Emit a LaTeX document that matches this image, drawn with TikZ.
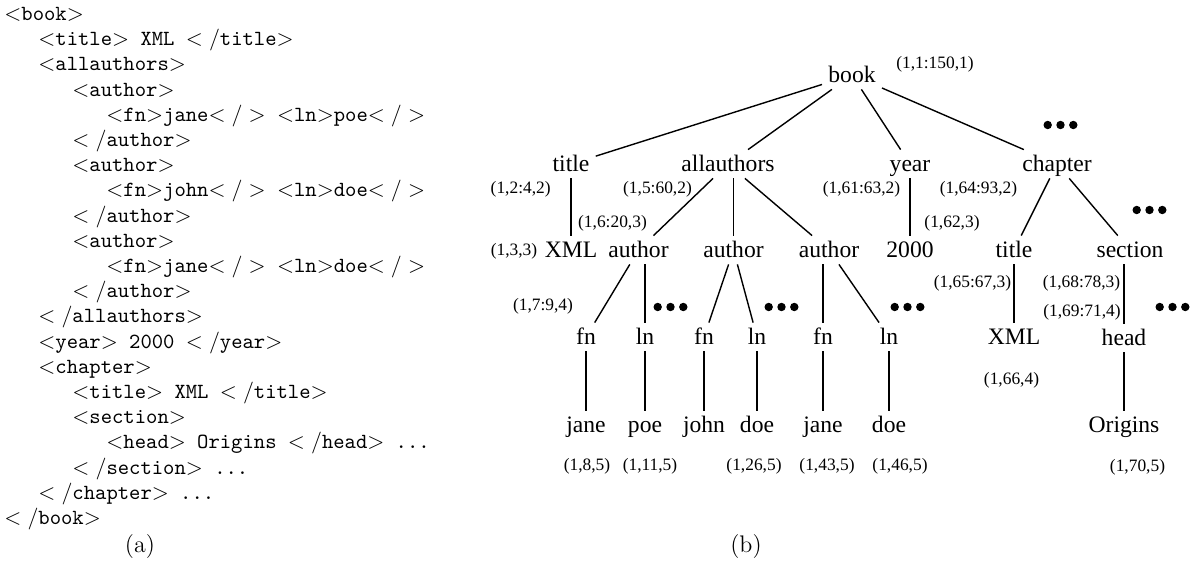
\documentclass[tikz,border=0pt]{standalone}
\usepackage{fontspec}
\newfontfamily\treefont{Liberation Serif}
\newcommand{\lvl}{\hphantom{xxx}}
\newcommand{\moredots}[1]{\fill #1 ++(-6.4pt,0) circle (2.1pt) ++(6.4pt,0) circle (2.1pt) ++(6.4pt,0) circle (2.1pt);}

\begin{document}
\begin{tikzpicture}[
    x=0.5pt, y=-0.5pt,
    elem/.style={font=\treefont\fontsize{11.8}{14}\selectfont, anchor=base, inner sep=3pt, text height=8pt, text depth=0pt},
    idx/.style={font=\treefont\fontsize{8.7}{10}\selectfont, inner sep=1pt},
    link/.style={line width=0.7pt},
    src/.style={font=\fontsize{10.8}{12.6}\selectfont\ttfamily, align=left, anchor=north west, inner sep=0pt}
  ]
  \useasboundingbox (0,0) rectangle (1195,565);

  % (a) the document
  \node[src] (src) at (4,7) {%
    $<$book$>$\\
    \lvl$<$title$>$ XML $</$title$>$\\
    \lvl$<$allauthors$>$\\
    \lvl\lvl$<$author$>$\\
    \lvl\lvl\lvl$<$fn$>$jane$</>$ $<$ln$>$poe$</>$\\
    \lvl\lvl$</$author$>$\\
    \lvl\lvl$<$author$>$\\
    \lvl\lvl\lvl$<$fn$>$john$</>$ $<$ln$>$doe$</>$\\
    \lvl\lvl$</$author$>$\\
    \lvl\lvl$<$author$>$\\
    \lvl\lvl\lvl$<$fn$>$jane$</>$ $<$ln$>$doe$</>$\\
    \lvl\lvl$</$author$>$\\
    \lvl$</$allauthors$>$\\
    \lvl$<$year$>$ 2000 $</$year$>$\\
    \lvl$<$chapter$>$\\
    \lvl\lvl$<$title$>$ XML $</$title$>$\\
    \lvl\lvl$<$section$>$\\
    \lvl\lvl\lvl$<$head$>$ Origins $</$head$>$ ...\\
    \lvl\lvl$</$section$>$ ...\\
    \lvl$</$chapter$>$ ...\\
    $</$book$>$};
  \node[font=\fontsize{12}{14}\selectfont] (cap-a) at (140,547) {(a)};

  % (b) the tree
  \node[elem] (book) at (852,83) {book};
  \node[elem] (title) at (571,172) {title};
  \node[elem] (allauth) at (728,172) {allauthors};
  \node[elem] (year) at (910,172) {year};
  \node[elem] (chapter) at (1057,172) {chapter};
  \node[elem] (xml) at (571,258) {XML};
  \node[elem] (auth1) at (638.5,258) {author};
  \node[elem] (auth2) at (733.5,258) {author};
  \node[elem] (auth3) at (829,258) {author};
  \node[elem] (y2000) at (910,258) {2000};
  \node[elem] (ctitle) at (1014,258) {title};
  \node[elem] (section) at (1130,258) {section};
  \node[elem] (fn1) at (586,345) {fn};
  \node[elem] (ln1) at (645,345) {ln};
  \node[elem] (fn2) at (704,345) {fn};
  \node[elem] (ln2) at (757,345) {ln};
  \node[elem] (fn3) at (823,345) {fn};
  \node[elem] (ln3) at (889,345) {ln};
  \node[elem] (cxml) at (1014,345) {XML};
  \node[elem] (head) at (1124,346) {head};
  \node[elem] (jane1) at (586,433) {jane};
  \node[elem] (poe) at (645,433) {poe};
  \node[elem] (john) at (704,433) {john};
  \node[elem] (doe1) at (757,433) {doe};
  \node[elem] (jane2) at (823,433) {jane};
  \node[elem] (doe2) at (889,433) {doe};
  \node[elem] (origins) at (1124,433) {Origins};

  % interval labels
  \node[idx] (i-book) at (935,64) {(1,1:150,1)};
  \node[idx] (i-title) at (520.7,189) {(1,2:4,2)};
  \node[idx] (i-allauth) at (657.5,189) {(1,5:60,2)};
  \node[idx] (i-year) at (861.5,189) {(1,61:63,2)};
  \node[idx] (i-chapter) at (978.5,189) {(1,64:93,2)};
  \node[idx] (i-auth1) at (612.5,223) {(1,6:20,3)};
  \node[idx] (i-2000) at (952,223) {(1,62,3)};
  \node[idx] (i-xml) at (514,251) {(1,3,3)};
  \node[idx] (i-fn1) at (543,306) {(1,7:9,4)};
  \node[idx] (i-ctitle) at (972.5,283.5) {(1,65:67,3)};
  \node[idx] (i-section) at (1081.5,283.5) {(1,68:78,3)};
  \node[idx] (i-head) at (1082,312) {(1,69:71,4)};
  \node[idx] (i-cxml) at (1011.5,380) {(1,66,4)};
  \node[idx] (i-jane1) at (587,466.5) {(1,8,5)};
  \node[idx] (i-poe) at (650,466.5) {(1,11,5)};
  \node[idx] (i-doe1) at (754,466.5) {(1,26,5)};
  \node[idx] (i-jane2) at (827,466.5) {(1,43,5)};
  \node[idx] (i-doe2) at (900,466.5) {(1,46,5)};
  \node[idx] (i-origins) at (1137.5,467) {(1,70,5)};

  % edges
  \draw[link] (book) -- (title);
  \draw[link] (book) -- (allauth);
  \draw[link] (book) -- (year);
  \draw[link] (book) -- (chapter);
  \draw[link] (title) -- (xml);
  \draw[link] (allauth) -- (auth1);
  \draw[link] (auth2 |- allauth.south) -- (auth2);
  \draw[link] (allauth) -- (auth3);
  \draw[link] (year) -- (y2000);
  \draw[link] (chapter) -- (ctitle);
  \draw[link] (chapter) -- (section);
  \draw[link] (auth1) -- (fn1);
  \draw[link] (ln1 |- auth1.south) -- (ln1);
  \draw[link] (auth2) -- (fn2);
  \draw[link] (auth2) -- (ln2);
  \draw[link] (fn3 |- auth3.south) -- (fn3);
  \draw[link] (auth3) -- (ln3);
  \draw[link] (ctitle) -- (cxml);
  \draw[link] (head |- section.south) -- (head);
  \draw[link] (fn1) -- (jane1);
  \draw[link] (ln1) -- (poe);
  \draw[link] (fn2) -- (john);
  \draw[link] (ln2) -- (doe1);
  \draw[link] (fn3) -- (jane2);
  \draw[link] (ln3) -- (doe2);
  \draw[link] (head) -- (origins);

  % omitted siblings
  \moredots{(1060.5,125)}
  \moredots{(1149.5,210)}
  \moredots{(670.5,307)}
  \moredots{(781.5,307)}
  \moredots{(907.5,307)}
  \moredots{(1172.5,307)}

  \node[font=\fontsize{12}{14}\selectfont] (cap-b) at (746,547) {(b)};
\end{tikzpicture}
\end{document}
